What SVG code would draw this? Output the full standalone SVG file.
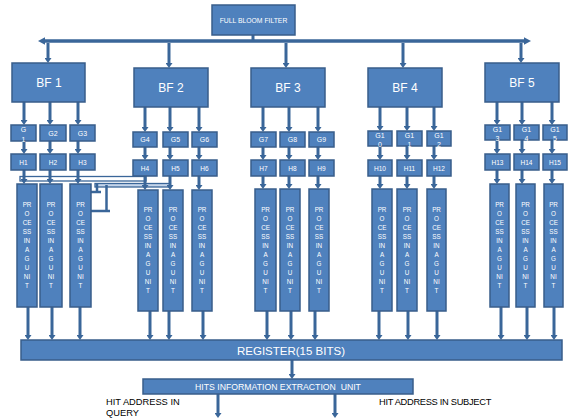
<svg xmlns="http://www.w3.org/2000/svg" width="568" height="418" viewBox="0 0 568 418">
<style>
.box{fill:#4f81bd;stroke:#385d8a;stroke-width:1.5}
.t{fill:#fff;font-family:"Liberation Sans",Arial,sans-serif;text-anchor:middle}
.bf{font-size:12px}
.g{font-size:7px}
.h{font-size:6.5px}
.pu{font-size:6.3px}
.c line{stroke:#3a6699;stroke-width:3;fill:none}
.c line.a{marker-end:url(#ah)}
.lbl{fill:#000;font-family:"Liberation Sans",Arial,sans-serif;font-size:9.3px}
</style>
<defs>
<marker id="ah" markerWidth="6" markerHeight="7" refX="1" refY="3.5" orient="auto" markerUnits="userSpaceOnUse">
<path d="M0,0 L5,3.5 L0,7 z" fill="#3a6699"/>
</marker>
</defs>
<rect width="568" height="418" fill="#fff"/>

<g id="connectors" class="c">
<!-- cross wiring near H1-H5 -->
<rect x="20" y="176.5" width="126" height="4.5" fill="#fff" stroke="#3a6699" stroke-width="1.3"/>
<rect x="95" y="183.5" width="75" height="3.5" fill="#c5d5ea" stroke="#3a6699" stroke-width="1.3"/>
<line x1="97" y1="183" x2="97" y2="193" style="stroke-width:2.5"/>
<line x1="91" y1="192" x2="101" y2="192" style="stroke-width:2.5"/>
<line x1="106.5" y1="185" x2="106.5" y2="211" style="stroke-width:2.5"/>
<line x1="91" y1="211" x2="110" y2="211" style="stroke-width:2.5"/>
<!-- bus -->
<line x1="44" y1="41" x2="526" y2="41" style="stroke-width:3.5"/>
<polygon points="38,41 45,37.3 45,44.7" fill="#3a6699"/>
<polygon points="531,41 524,37.3 524,44.7" fill="#3a6699"/>
<line x1="253" y1="35" x2="253" y2="41"/>
<!-- bus to BF -->
<line class="a" x1="48" y1="43" x2="48" y2="59"/>
<line class="a" x1="169" y1="43" x2="169" y2="64"/>
<line class="a" x1="286" y1="43" x2="286" y2="64"/>
<line class="a" x1="403" y1="43" x2="403" y2="64"/>
<line class="a" x1="521" y1="43" x2="521" y2="59"/>
<!-- BF1 column -->
<line class="a" x1="24" y1="102" x2="24" y2="121"/>
<line class="a" x1="50" y1="102" x2="50" y2="121"/>
<line class="a" x1="78" y1="102" x2="78" y2="121"/>
<line class="a" x1="24" y1="141" x2="24" y2="150"/>
<line class="a" x1="50" y1="141" x2="50" y2="150"/>
<line class="a" x1="78" y1="141" x2="78" y2="150"/>
<line class="a" x1="24" y1="170" x2="24" y2="180"/>
<line class="a" x1="50" y1="170" x2="50" y2="180"/>
<line class="a" x1="78" y1="170" x2="78" y2="180"/>
<line class="a" x1="28" y1="307" x2="28" y2="336"/>
<line class="a" x1="52" y1="307" x2="52" y2="336"/>
<line class="a" x1="80" y1="307" x2="80" y2="336"/>
<!-- BF2 column -->
<line class="a" x1="145" y1="107" x2="145" y2="128"/>
<line class="a" x1="170" y1="107" x2="170" y2="128"/>
<line class="a" x1="199" y1="107" x2="199" y2="128"/>
<line class="a" x1="145" y1="147" x2="145" y2="156"/>
<line class="a" x1="170" y1="147" x2="170" y2="156"/>
<line class="a" x1="199" y1="147" x2="199" y2="156"/>
<line class="a" x1="145" y1="176" x2="145" y2="186"/>
<line class="a" x1="170" y1="176" x2="170" y2="186"/>
<line class="a" x1="199" y1="176" x2="199" y2="186"/>
<line class="a" x1="150" y1="311" x2="150" y2="336"/>
<line class="a" x1="169" y1="311" x2="169" y2="336"/>
<line class="a" x1="203" y1="311" x2="203" y2="336"/>
<!-- BF3 column -->
<line class="a" x1="263" y1="107" x2="263" y2="128"/>
<line class="a" x1="289" y1="107" x2="289" y2="128"/>
<line class="a" x1="318" y1="107" x2="318" y2="128"/>
<line class="a" x1="263" y1="147" x2="263" y2="156"/>
<line class="a" x1="289" y1="147" x2="289" y2="156"/>
<line class="a" x1="318" y1="147" x2="318" y2="156"/>
<line class="a" x1="263" y1="176" x2="263" y2="185"/>
<line class="a" x1="289" y1="176" x2="289" y2="185"/>
<line class="a" x1="318" y1="176" x2="318" y2="185"/>
<line class="a" x1="267" y1="311" x2="267" y2="336"/>
<line class="a" x1="291" y1="311" x2="291" y2="336"/>
<line class="a" x1="315" y1="311" x2="315" y2="336"/>
<!-- BF4 column -->
<line class="a" x1="380" y1="107" x2="380" y2="127"/>
<line class="a" x1="407" y1="107" x2="407" y2="127"/>
<line class="a" x1="434" y1="107" x2="434" y2="127"/>
<line class="a" x1="380" y1="146" x2="380" y2="156"/>
<line class="a" x1="407" y1="146" x2="407" y2="156"/>
<line class="a" x1="434" y1="146" x2="434" y2="156"/>
<line class="a" x1="380" y1="176" x2="380" y2="185"/>
<line class="a" x1="407" y1="176" x2="407" y2="185"/>
<line class="a" x1="434" y1="176" x2="434" y2="185"/>
<line class="a" x1="379" y1="311" x2="379" y2="336"/>
<line class="a" x1="408" y1="311" x2="408" y2="336"/>
<line class="a" x1="437" y1="311" x2="437" y2="336"/>
<!-- BF5 column -->
<line class="a" x1="497" y1="102" x2="497" y2="121"/>
<line class="a" x1="522" y1="102" x2="522" y2="121"/>
<line class="a" x1="552" y1="102" x2="552" y2="121"/>
<line class="a" x1="497" y1="140" x2="497" y2="150"/>
<line class="a" x1="522" y1="140" x2="522" y2="150"/>
<line class="a" x1="552" y1="140" x2="552" y2="150"/>
<line class="a" x1="497" y1="170" x2="497" y2="180"/>
<line class="a" x1="522" y1="170" x2="522" y2="180"/>
<line class="a" x1="552" y1="170" x2="552" y2="180"/>
<line class="a" x1="501" y1="307" x2="501" y2="336"/>
<line class="a" x1="527" y1="307" x2="527" y2="336"/>
<line class="a" x1="554" y1="307" x2="554" y2="336"/>
<!-- register / hits -->
<line class="a" x1="292" y1="360" x2="292" y2="375"/>
<line class="a" x1="218" y1="394" x2="218" y2="414"/>
<line class="a" x1="335" y1="394" x2="335" y2="414"/>
</g>

<g id="fbf"><rect class="box" x="212" y="5" width="83" height="30"/><text class="t" x="253.5" y="22.5" font-size="6.8">FULL BLOOM FILTER</text></g>

<g id="bf1"><rect class="box" x="12" y="63" width="73" height="39"/><text class="t bf" x="49" y="87">BF 1</text></g>
<g id="bf2"><rect class="box" x="134" y="68" width="74" height="39"/><text class="t bf" x="171" y="92">BF 2</text></g>
<g id="bf3"><rect class="box" x="251" y="68" width="74" height="39"/><text class="t bf" x="288" y="92">BF 3</text></g>
<g id="bf4"><rect class="box" x="368" y="68" width="74" height="39"/><text class="t bf" x="405" y="92">BF 4</text></g>
<g id="bf5"><rect class="box" x="485" y="63" width="74" height="39"/><text class="t bf" x="522" y="87">BF 5</text></g>

<!-- G boxes -->
<g id="g1"><rect class="box" x="11" y="125" width="25" height="16"/><text class="t g" x="23.5" y="132">G</text><text class="t g" x="23.5" y="141.5">1</text></g>
<g id="g2"><rect class="box" x="40" y="125" width="26" height="16"/><text class="t g" x="53" y="135.5">G2</text></g>
<g id="g3"><rect class="box" x="70" y="125" width="25" height="16"/><text class="t g" x="82.5" y="135.5">G3</text></g>
<g id="g4"><rect class="box" x="133" y="132" width="24" height="15"/><text class="t g" x="145" y="142">G4</text></g>
<g id="g5"><rect class="box" x="163" y="132" width="25" height="15"/><text class="t g" x="175.5" y="142">G5</text></g>
<g id="g6"><rect class="box" x="192" y="132" width="25" height="15"/><text class="t g" x="204.5" y="142">G6</text></g>
<g id="g7"><rect class="box" x="251" y="132" width="25" height="15"/><text class="t g" x="263.5" y="142">G7</text></g>
<g id="g8"><rect class="box" x="280" y="132" width="25" height="15"/><text class="t g" x="292.5" y="142">G8</text></g>
<g id="g9"><rect class="box" x="309" y="132" width="25" height="15"/><text class="t g" x="321.5" y="142">G9</text></g>
<g id="g10"><rect class="box" x="368" y="131" width="24" height="15"/><text class="t g" x="380" y="138">G1</text><text class="t g" x="380" y="147">0</text></g>
<g id="g11"><rect class="box" x="397" y="131" width="25" height="15"/><text class="t g" x="409.5" y="138">G1</text><text class="t g" x="409.5" y="147">1</text></g>
<g id="g12"><rect class="box" x="427" y="131" width="24" height="15"/><text class="t g" x="439" y="138">G1</text><text class="t g" x="439" y="147">2</text></g>
<g id="g13"><rect class="box" x="485" y="125" width="25" height="15"/><text class="t g" x="497.5" y="132">G1</text><text class="t g" x="497.5" y="141">3</text></g>
<g id="g14"><rect class="box" x="514" y="125" width="25" height="15"/><text class="t g" x="526.5" y="132">G1</text><text class="t g" x="526.5" y="141">4</text></g>
<g id="g15"><rect class="box" x="543" y="125" width="24" height="15"/><text class="t g" x="555" y="132">G1</text><text class="t g" x="555" y="141">5</text></g>

<!-- H boxes -->
<g id="h1"><rect class="box" x="11" y="154" width="25" height="16"/><text class="t h" x="23.5" y="164.5">H1</text></g>
<g id="h2"><rect class="box" x="40" y="154" width="26" height="16"/><text class="t h" x="53" y="164.5">H2</text></g>
<g id="h3"><rect class="box" x="70" y="154" width="25" height="16"/><text class="t h" x="82.5" y="164.5">H3</text></g>
<g id="h4"><rect class="box" x="133" y="160" width="24" height="16"/><text class="t h" x="145" y="170.5">H4</text></g>
<g id="h5"><rect class="box" x="163" y="160" width="25" height="16"/><text class="t h" x="175.5" y="170.5">H5</text></g>
<g id="h6"><rect class="box" x="192" y="160" width="25" height="16"/><text class="t h" x="204.5" y="170.5">H6</text></g>
<g id="h7"><rect class="box" x="251" y="160" width="25" height="16"/><text class="t h" x="263.5" y="170.5">H7</text></g>
<g id="h8"><rect class="box" x="280" y="160" width="25" height="16"/><text class="t h" x="292.5" y="170.5">H8</text></g>
<g id="h9"><rect class="box" x="309" y="160" width="25" height="16"/><text class="t h" x="321.5" y="170.5">H9</text></g>
<g id="h10"><rect class="box" x="368" y="160" width="24" height="16"/><text class="t h" x="380" y="170.5">H10</text></g>
<g id="h11"><rect class="box" x="397" y="160" width="25" height="16"/><text class="t h" x="409.5" y="170.5">H11</text></g>
<g id="h12"><rect class="box" x="427" y="160" width="24" height="16"/><text class="t h" x="439" y="170.5">H12</text></g>
<g id="h13"><rect class="box" x="485" y="154" width="25" height="16"/><text class="t h" x="497.5" y="164.5">H13</text></g>
<g id="h14"><rect class="box" x="514" y="154" width="25" height="16"/><text class="t h" x="526.5" y="164.5">H14</text></g>
<g id="h15"><rect class="box" x="543" y="154" width="24" height="16"/><text class="t h" x="555" y="164.5">H15</text></g>

<!-- processing units -->
<g id="pu1"><rect class="box" x="17" y="184" width="20" height="123"/><text class="t pu" y="207"><tspan x="27">PR</tspan><tspan x="27" dy="9">O</tspan><tspan x="27" dy="9">CE</tspan><tspan x="27" dy="9">SS</tspan><tspan x="27" dy="9">IN</tspan><tspan x="27" dy="9">A</tspan><tspan x="27" dy="9">G</tspan><tspan x="27" dy="9">U</tspan><tspan x="27" dy="9">NI</tspan><tspan x="27" dy="9">T</tspan></text></g>
<g id="pu2"><rect class="box" x="40" y="184" width="22" height="123"/><text class="t pu" y="207"><tspan x="51">PR</tspan><tspan x="51" dy="9">O</tspan><tspan x="51" dy="9">CE</tspan><tspan x="51" dy="9">SS</tspan><tspan x="51" dy="9">IN</tspan><tspan x="51" dy="9">A</tspan><tspan x="51" dy="9">G</tspan><tspan x="51" dy="9">U</tspan><tspan x="51" dy="9">NI</tspan><tspan x="51" dy="9">T</tspan></text></g>
<g id="pu3"><rect class="box" x="70" y="184" width="21" height="123"/><text class="t pu" y="207"><tspan x="80.5">PR</tspan><tspan x="80.5" dy="9">O</tspan><tspan x="80.5" dy="9">CE</tspan><tspan x="80.5" dy="9">SS</tspan><tspan x="80.5" dy="9">IN</tspan><tspan x="80.5" dy="9">A</tspan><tspan x="80.5" dy="9">G</tspan><tspan x="80.5" dy="9">U</tspan><tspan x="80.5" dy="9">NI</tspan><tspan x="80.5" dy="9">T</tspan></text></g>
<g id="pu4"><rect class="box" x="138" y="190" width="20" height="121"/><text class="t pu" y="212"><tspan x="148">PR</tspan><tspan x="148" dy="9">O</tspan><tspan x="148" dy="9">CE</tspan><tspan x="148" dy="9">SS</tspan><tspan x="148" dy="9">IN</tspan><tspan x="148" dy="9">A</tspan><tspan x="148" dy="9">G</tspan><tspan x="148" dy="9">U</tspan><tspan x="148" dy="9">NI</tspan><tspan x="148" dy="9">T</tspan></text></g>
<g id="pu5"><rect class="box" x="163" y="190" width="20" height="121"/><text class="t pu" y="212"><tspan x="173">PR</tspan><tspan x="173" dy="9">O</tspan><tspan x="173" dy="9">CE</tspan><tspan x="173" dy="9">SS</tspan><tspan x="173" dy="9">IN</tspan><tspan x="173" dy="9">A</tspan><tspan x="173" dy="9">G</tspan><tspan x="173" dy="9">U</tspan><tspan x="173" dy="9">NI</tspan><tspan x="173" dy="9">T</tspan></text></g>
<g id="pu6"><rect class="box" x="192" y="190" width="20" height="121"/><text class="t pu" y="212"><tspan x="202">PR</tspan><tspan x="202" dy="9">O</tspan><tspan x="202" dy="9">CE</tspan><tspan x="202" dy="9">SS</tspan><tspan x="202" dy="9">IN</tspan><tspan x="202" dy="9">A</tspan><tspan x="202" dy="9">G</tspan><tspan x="202" dy="9">U</tspan><tspan x="202" dy="9">NI</tspan><tspan x="202" dy="9">T</tspan></text></g>
<g id="pu7"><rect class="box" x="255" y="189" width="21" height="122"/><text class="t pu" y="212"><tspan x="265.5">PR</tspan><tspan x="265.5" dy="9">O</tspan><tspan x="265.5" dy="9">CE</tspan><tspan x="265.5" dy="9">SS</tspan><tspan x="265.5" dy="9">IN</tspan><tspan x="265.5" dy="9">A</tspan><tspan x="265.5" dy="9">G</tspan><tspan x="265.5" dy="9">U</tspan><tspan x="265.5" dy="9">NI</tspan><tspan x="265.5" dy="9">T</tspan></text></g>
<g id="pu8"><rect class="box" x="280" y="189" width="20" height="122"/><text class="t pu" y="212"><tspan x="290">PR</tspan><tspan x="290" dy="9">O</tspan><tspan x="290" dy="9">CE</tspan><tspan x="290" dy="9">SS</tspan><tspan x="290" dy="9">IN</tspan><tspan x="290" dy="9">A</tspan><tspan x="290" dy="9">G</tspan><tspan x="290" dy="9">U</tspan><tspan x="290" dy="9">NI</tspan><tspan x="290" dy="9">T</tspan></text></g>
<g id="pu9"><rect class="box" x="309" y="189" width="20" height="122"/><text class="t pu" y="212"><tspan x="319">PR</tspan><tspan x="319" dy="9">O</tspan><tspan x="319" dy="9">CE</tspan><tspan x="319" dy="9">SS</tspan><tspan x="319" dy="9">IN</tspan><tspan x="319" dy="9">A</tspan><tspan x="319" dy="9">G</tspan><tspan x="319" dy="9">U</tspan><tspan x="319" dy="9">NI</tspan><tspan x="319" dy="9">T</tspan></text></g>
<g id="pu10"><rect class="box" x="372" y="189" width="20" height="122"/><text class="t pu" y="212"><tspan x="382">PR</tspan><tspan x="382" dy="9">O</tspan><tspan x="382" dy="9">CE</tspan><tspan x="382" dy="9">SS</tspan><tspan x="382" dy="9">IN</tspan><tspan x="382" dy="9">A</tspan><tspan x="382" dy="9">G</tspan><tspan x="382" dy="9">U</tspan><tspan x="382" dy="9">NI</tspan><tspan x="382" dy="9">T</tspan></text></g>
<g id="pu11"><rect class="box" x="397" y="189" width="20" height="122"/><text class="t pu" y="212"><tspan x="407">PR</tspan><tspan x="407" dy="9">O</tspan><tspan x="407" dy="9">CE</tspan><tspan x="407" dy="9">SS</tspan><tspan x="407" dy="9">IN</tspan><tspan x="407" dy="9">A</tspan><tspan x="407" dy="9">G</tspan><tspan x="407" dy="9">U</tspan><tspan x="407" dy="9">NI</tspan><tspan x="407" dy="9">T</tspan></text></g>
<g id="pu12"><rect class="box" x="427" y="189" width="19" height="122"/><text class="t pu" y="212"><tspan x="436.5">PR</tspan><tspan x="436.5" dy="9">O</tspan><tspan x="436.5" dy="9">CE</tspan><tspan x="436.5" dy="9">SS</tspan><tspan x="436.5" dy="9">IN</tspan><tspan x="436.5" dy="9">A</tspan><tspan x="436.5" dy="9">G</tspan><tspan x="436.5" dy="9">U</tspan><tspan x="436.5" dy="9">NI</tspan><tspan x="436.5" dy="9">T</tspan></text></g>
<g id="pu13"><rect class="box" x="490" y="184" width="19" height="123"/><text class="t pu" y="207"><tspan x="499.5">PR</tspan><tspan x="499.5" dy="9">O</tspan><tspan x="499.5" dy="9">CE</tspan><tspan x="499.5" dy="9">SS</tspan><tspan x="499.5" dy="9">IN</tspan><tspan x="499.5" dy="9">A</tspan><tspan x="499.5" dy="9">G</tspan><tspan x="499.5" dy="9">U</tspan><tspan x="499.5" dy="9">NI</tspan><tspan x="499.5" dy="9">T</tspan></text></g>
<g id="pu14"><rect class="box" x="516" y="184" width="19" height="123"/><text class="t pu" y="207"><tspan x="525.5">PR</tspan><tspan x="525.5" dy="9">O</tspan><tspan x="525.5" dy="9">CE</tspan><tspan x="525.5" dy="9">SS</tspan><tspan x="525.5" dy="9">IN</tspan><tspan x="525.5" dy="9">A</tspan><tspan x="525.5" dy="9">G</tspan><tspan x="525.5" dy="9">U</tspan><tspan x="525.5" dy="9">NI</tspan><tspan x="525.5" dy="9">T</tspan></text></g>
<g id="pu15"><rect class="box" x="544" y="184" width="19" height="123"/><text class="t pu" y="207"><tspan x="553.5">PR</tspan><tspan x="553.5" dy="9">O</tspan><tspan x="553.5" dy="9">CE</tspan><tspan x="553.5" dy="9">SS</tspan><tspan x="553.5" dy="9">IN</tspan><tspan x="553.5" dy="9">A</tspan><tspan x="553.5" dy="9">G</tspan><tspan x="553.5" dy="9">U</tspan><tspan x="553.5" dy="9">NI</tspan><tspan x="553.5" dy="9">T</tspan></text></g>

<g id="register"><rect class="box" x="21" y="340" width="541" height="20"/><text class="t" x="291" y="354.5" font-size="11.5">REGISTER(15 BITS)</text></g>
<g id="hits"><rect class="box" x="143" y="379" width="270" height="15"/><text class="t" x="278" y="390" font-size="8.7" xml:space="preserve">HITS INFORMATION EXTRACTION  UNIT</text></g>

<g id="label-query"><text class="lbl" x="106" y="405">HIT ADDRESS IN</text><text class="lbl" x="106" y="416">QUERY</text></g>
<g id="label-subject"><text class="lbl" x="379" y="405" letter-spacing="-0.3">HIT ADDRESS IN SUBJECT</text></g>
</svg>
